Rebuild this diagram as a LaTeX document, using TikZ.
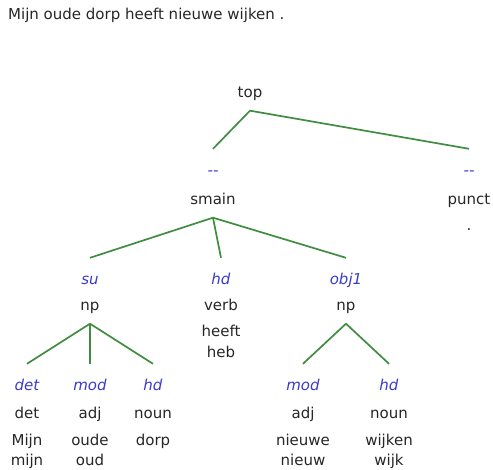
\documentclass[tikz,border=0pt]{standalone}
\usepackage{fontspec}
\setmainfont{DejaVu Sans}
\definecolor{edgegreen}{RGB}{64,140,64}
\definecolor{relblue}{RGB}{58,58,205}
\begin{document}
\begin{tikzpicture}[x=1pt,y=-1pt,
    every node/.style={anchor=base, inner sep=0pt, text height=11pt, text depth=3.5pt,
        text=black!85, font=\fontsize{15}{18}\selectfont},
    rel/.style={text=relblue, font=\fontsize{15}{18}\selectfont\itshape},
    branch/.style={draw=edgegreen, line width=1.7pt}]
    \useasboundingbox (0,0) rectangle (493,470);
    \node[anchor=base west] (sent) at (8,19.5) {Mijn oude dorp heeft nieuwe wijken .};
    % top level
    \node (top) at (250,98) {top};
    \node[rel] (smainrel) at (213,176) {{-}{-}};
    \node (smain) at (213,205) {smain};
    \node[rel] (punctrel) at (469,176) {{-}{-}};
    \node (punct) at (469,205) {punct};
    \node (dot) at (469,231) {.};
    % smain
    \node[rel] (su) at (90,285) {su};
    \node (np1) at (90,311) {np};
    \node[rel] (hdv) at (221,285) {hd};
    \node (verb) at (221,311) {verb};
    \node (heeft) at (221,337) {heeft};
    \node (heb) at (221,358) {heb};
    \node[rel] (obj) at (346,285) {obj1};
    \node (np2) at (346,311) {np};
    % leaves
    \foreach \x/\r/\c/\w/\n in {27/det/det/Mijn/a, 90/mod/adj/oude/b, 153/hd/noun/dorp/c,
        303/mod/adj/nieuwe/d, 389/hd/noun/wijken/e}
    {
        \node[rel] (rel\n) at (\x,391) {\r};
        \node (cat\n) at (\x,418) {\c};
        \node (word\n) at (\x,446) {\w};
    }
    \node (lema) at (27,465) {mijn};
    \node (lemb) at (90,465) {oud};
    \node (lemd) at (303,465) {nieuw};
    \node (leme) at (389,465) {wijk};
    % branches
    \foreach \a/\b in {top/smainrel, top/punctrel, smain/su, smain/hdv, smain/obj,
        np1/rela, np1/relb, np1/relc, np2/reld, np2/rele}
    {
        \draw[branch]([yshift=-9pt]\a.south)--([yshift=16pt]\b.north);
    }
\end{tikzpicture}
\end{document}
